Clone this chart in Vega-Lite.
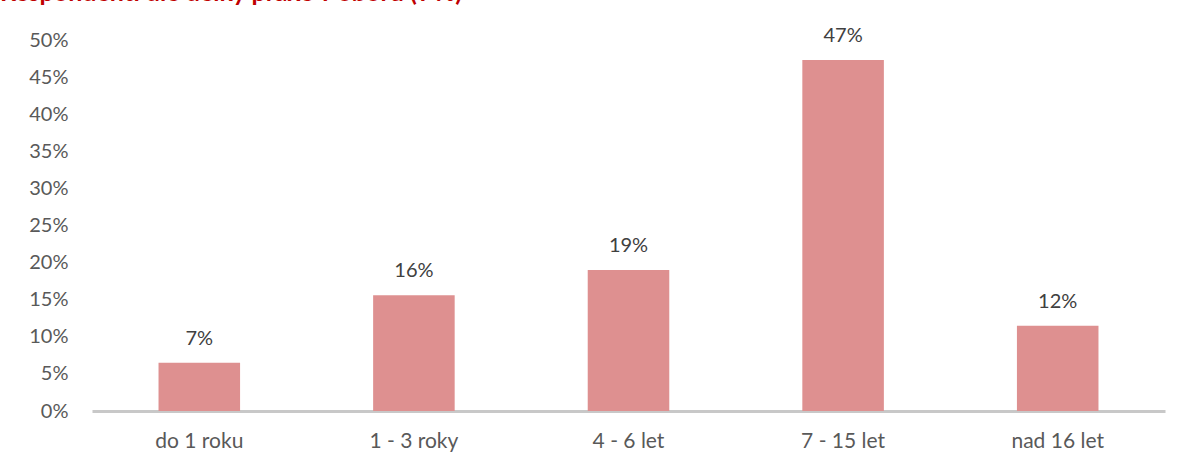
{
  "$schema": "https://vega.github.io/schema/vega-lite/v6.json",
  "width": 1073,
  "height": 371,
  "autosize": "none",
  "padding": {"left": 92, "top": 40, "right": 16, "bottom": 57},
  "background": "white",
  "title": {
    "text": "Respondenti dle délky praxe v oboru (v %)",
    "anchor": "start",
    "frame": "group",
    "dx": -92,
    "dy": 10,
    "offset": 10,
    "baseline": "alphabetic",
    "font": "Lato",
    "fontSize": 25,
    "fontWeight": "bold",
    "color": "#c00000"
  },
  "config": {"view": {"stroke": null}},
  "data": {
    "values": [
      {"kategorie": "do 1 roku", "podil": 6.5, "popisek": "7%"},
      {"kategorie": "1 - 3 roky", "podil": 15.6, "popisek": "16%"},
      {"kategorie": "4 - 6 let", "podil": 19.0, "popisek": "19%"},
      {"kategorie": "7 - 15 let", "podil": 47.3, "popisek": "47%"},
      {"kategorie": "nad 16 let", "podil": 11.5, "popisek": "12%"}
    ]
  },
  "encoding": {
    "x": {
      "field": "kategorie",
      "type": "nominal",
      "sort": null,
      "scale": {"paddingInner": 0.62, "paddingOuter": 0.31},
      "axis": {
        "title": null,
        "labelAngle": 0,
        "labelFont": "Lato",
        "labelFontSize": 21,
        "labelColor": "#595959",
        "labelPadding": 19,
        "ticks": false,
        "domainColor": "#c8c8c8",
        "domainWidth": 3
      }
    },
    "y": {
      "field": "podil",
      "type": "quantitative",
      "scale": {"domain": [0, 50]},
      "axis": {
        "title": null,
        "values": [0, 5, 10, 15, 20, 25, 30, 35, 40, 45, 50],
        "labelExpr": "datum.value + '%'",
        "labelFont": "Lato",
        "labelFontSize": 20,
        "labelColor": "#595959",
        "labelPadding": 24,
        "ticks": false,
        "domain": false,
        "grid": false
      }
    }
  },
  "layer": [
    {
      "mark": {"type": "bar", "color": "#de9090"}
    },
    {
      "mark": {"type": "text", "baseline": "bottom", "dy": -14, "font": "Lato", "fontSize": 20, "color": "#404040"},
      "encoding": {"text": {"field": "popisek"}}
    }
  ]
}
